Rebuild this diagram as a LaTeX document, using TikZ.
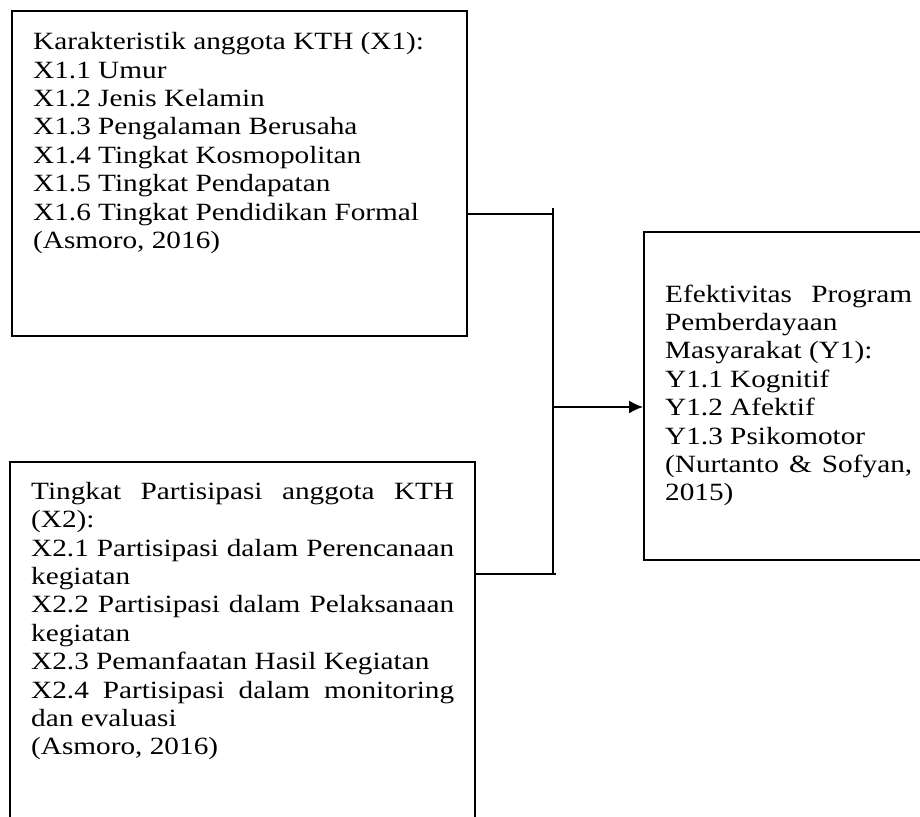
\documentclass[tikz,border=0pt]{standalone}
\usepackage{fontspec}
\setmainfont{Liberation Serif}[FakeStretch=1.18]
\usetikzlibrary{arrows.meta}

\begin{document}
\begin{tikzpicture}[x=0.5pt,y=-0.5pt,
        kotak/.style={draw,line width=1.2pt,anchor=north west,inner xsep=10.5pt,
            font=\fontsize{12.4}{14.2}\selectfont},
        garis/.style={line width=0.7pt}]
        \useasboundingbox (0,0) rectangle (920,817);
        \clip (0,0) rectangle (920,817);
        \node[kotak,inner ysep=9.3pt] (karakteristik) at (11,10) {\parbox[t][143.9pt][t]{206.5pt}{\strut
            Karakteristik anggota KTH (X1):\\
            X1.1 Umur\\
            X1.2 Jenis Kelamin\\
            X1.3 Pengalaman Berusaha\\
            X1.4 Tingkat Kosmopolitan\\
            X1.5 Tingkat Pendapatan\\
            X1.6 Tingkat Pendidikan Formal\\
            (Asmoro, 2016)}};
        \node[kotak,inner ysep=8.6pt] (partisipasi) at (9,461) {\parbox[t][170pt][t]{211.5pt}{\strut
            Tingkat Partisipasi anggota KTH\linebreak
            (X2):\\
            X2.1 Partisipasi dalam Perencanaan\linebreak
            kegiatan\\
            X2.2 Partisipasi dalam Pelaksanaan\linebreak
            kegiatan\\
            X2.3 Pemanfaatan Hasil Kegiatan\\
            X2.4 Partisipasi dalam monitoring\linebreak
            dan evaluasi\\
            (Asmoro, 2016)}};
        \node[kotak,inner ysep=9pt] (efektivitas) at (643,231) {\parbox[t][146pt][t]{123.5pt}{\vspace*{16pt}\strut
            Efektivitas Program\linebreak
            Pemberdayaan\\
            Masyarakat (Y1):\\
            Y1.1 Kognitif\\
            Y1.2 Afektif\\
            Y1.3 Psikomotor\\
            (Nurtanto \& Sofyan,\linebreak
            2015)}};
        \coordinate (atas) at (553,208);
        \coordinate (simpul1) at (553,214);
        \coordinate (simpul2) at (556,574);
        \coordinate (bawah) at (553,575);
        \coordinate (tengah) at (553,407);
        \draw[garis] (atas) -- (bawah);
        \draw[garis] (karakteristik.east |- simpul1) -- (simpul1);
        \draw[garis] (partisipasi.east |- simpul2) -- (simpul2);
        \draw[garis,-{Latex[length=7pt,width=6.5pt]}] (tengah) -- (efektivitas.west |- tengah);
\end{tikzpicture}
\end{document}
